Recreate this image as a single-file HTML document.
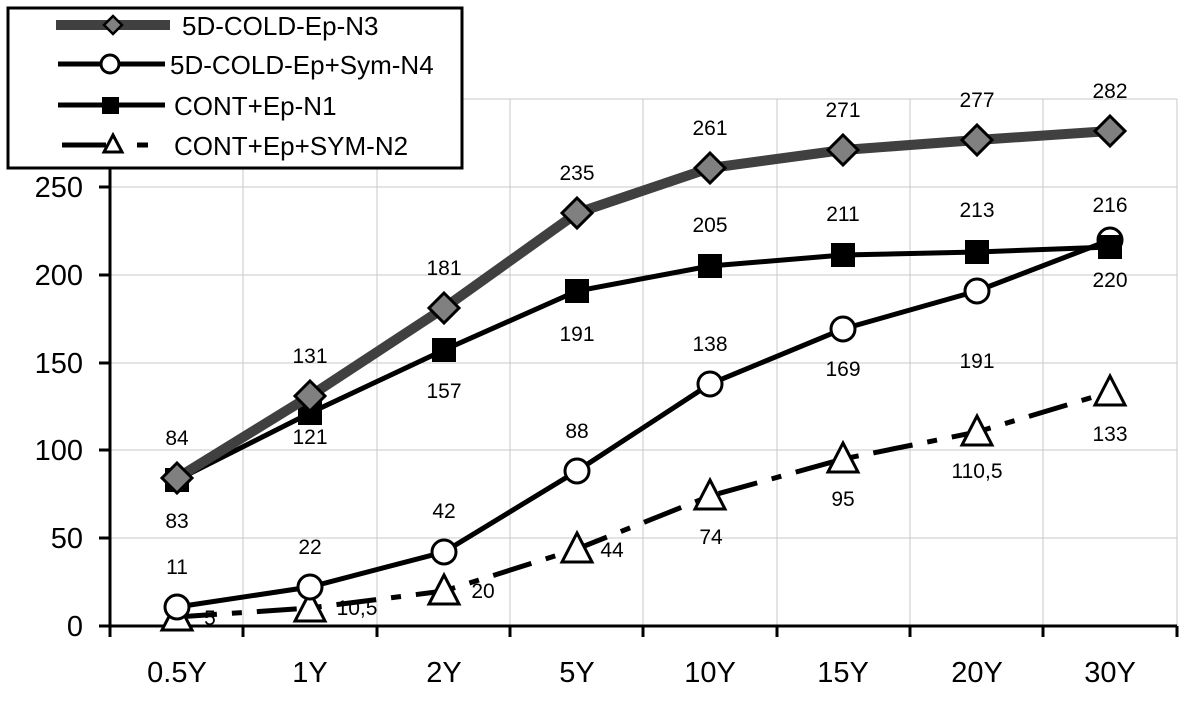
<!DOCTYPE html>
<html><head><meta charset="utf-8"><style>body{margin:0;background:#fff}</style></head><body>
<svg width="1185" height="701" xmlns="http://www.w3.org/2000/svg" font-family="Liberation Sans, Arial, sans-serif">
<rect width="1185" height="701" fill="#fff"/>
<!-- grid -->
<g stroke="#c8c8c8" stroke-width="1">
<line x1="110" y1="538" x2="1177" y2="538"/><line x1="110" y1="450" x2="1177" y2="450"/><line x1="110" y1="363" x2="1177" y2="363"/><line x1="110" y1="275" x2="1177" y2="275"/><line x1="110" y1="187" x2="1177" y2="187"/><line x1="462" y1="99" x2="1177" y2="99"/>
<line x1="243" y1="168" x2="243" y2="626"/><line x1="377" y1="168" x2="377" y2="626"/><line x1="510" y1="99" x2="510" y2="626"/><line x1="643" y1="99" x2="643" y2="626"/><line x1="777" y1="99" x2="777" y2="626"/><line x1="910" y1="99" x2="910" y2="626"/><line x1="1043" y1="99" x2="1043" y2="626"/><line x1="1177" y1="99" x2="1177" y2="626"/>
</g>
<!-- axes -->
<line x1="110" y1="168" x2="110" y2="637" stroke="#000" stroke-width="3"/>
<line x1="99" y1="626" x2="1177" y2="626" stroke="#000" stroke-width="3"/>
<g stroke="#000" stroke-width="3">
<line x1="99" y1="538" x2="110" y2="538"/><line x1="99" y1="450" x2="110" y2="450"/><line x1="99" y1="363" x2="110" y2="363"/><line x1="99" y1="275" x2="110" y2="275"/><line x1="99" y1="187" x2="110" y2="187"/>
<line x1="243" y1="626" x2="243" y2="637"/><line x1="377" y1="626" x2="377" y2="637"/><line x1="510" y1="626" x2="510" y2="637"/><line x1="643" y1="626" x2="643" y2="637"/><line x1="777" y1="626" x2="777" y2="637"/><line x1="910" y1="626" x2="910" y2="637"/><line x1="1043" y1="626" x2="1043" y2="637"/><line x1="1177" y1="626" x2="1177" y2="637"/>
</g>
<g font-size="29" text-anchor="end">
<text x="83" y="636">0</text><text x="83" y="548">50</text><text x="83" y="460">100</text><text x="83" y="373">150</text><text x="83" y="285">200</text><text x="83" y="197">250</text>
</g>
<g font-size="29" text-anchor="middle">
<text x="177" y="682">0.5Y</text><text x="310" y="682">1Y</text><text x="444" y="682">2Y</text><text x="577" y="682">5Y</text><text x="710" y="682">10Y</text><text x="843" y="682">15Y</text><text x="977" y="682">20Y</text><text x="1110" y="682">30Y</text>
</g>
<!-- N2 dashed -->
<polyline points="177,617 310,608 444,591 577,549 710,496 843,459 977,432 1110,392" fill="none" stroke="#000" stroke-width="5" stroke-dasharray="40,15,10,15"/>
<g fill="#fff" stroke="#000" stroke-width="3">
<polygon points="177,601 192,630 162,630"/><polygon points="310,592 325,621 295,621"/><polygon points="444,575 459,604 429,604"/><polygon points="577,533 592,562 562,562"/><polygon points="710,480 725,509 695,509"/><polygon points="843,443 858,472 828,472"/><polygon points="977,416 992,445 962,445"/><polygon points="1110,376 1125,405 1095,405"/>
</g>
<!-- N4 -->
<polyline points="177,607 310,587 444,552 577,471 710,384 843,329 977,291 1110,240" fill="none" stroke="#000" stroke-width="5"/>
<g fill="#fff" stroke="#000" stroke-width="3">
<circle cx="177" cy="607" r="12"/><circle cx="310" cy="587" r="12"/><circle cx="444" cy="552" r="12"/><circle cx="577" cy="471" r="12"/><circle cx="710" cy="384" r="12"/><circle cx="843" cy="329" r="12"/><circle cx="977" cy="291" r="12"/><circle cx="1110" cy="240" r="12"/>
</g>
<!-- N1 -->
<polyline points="177,480 310,413 444,350 577,291 710,266 843,255 977,252 1110,247" fill="none" stroke="#000" stroke-width="5"/>
<g fill="#000">
<rect x="165" y="468" width="24" height="24"/><rect x="298" y="401" width="24" height="24"/><rect x="432" y="338" width="24" height="24"/><rect x="565" y="279" width="24" height="24"/><rect x="698" y="254" width="24" height="24"/><rect x="831" y="243" width="24" height="24"/><rect x="965" y="240" width="24" height="24"/><rect x="1098" y="235" width="24" height="24"/>
</g>
<!-- N3 -->
<polyline points="177,478 310,396 444,308 577,213 710,168 843,150 977,140 1110,131" fill="none" stroke="#404040" stroke-width="10"/>
<g fill="#808080" stroke="#000" stroke-width="3">
<polygon points="177,463 192,478 177,493 162,478"/><polygon points="310,381 325,396 310,411 295,396"/><polygon points="444,293 459,308 444,323 429,308"/><polygon points="577,198 592,213 577,228 562,213"/><polygon points="710,153 725,168 710,183 695,168"/><polygon points="843,135 858,150 843,165 828,150"/><polygon points="977,125 992,140 977,155 962,140"/><polygon points="1110,116 1125,131 1110,146 1095,131"/>
</g>
<!-- data labels -->
<g font-size="21" text-anchor="middle">
<text x="177" y="445">84</text><text x="310" y="363">131</text><text x="444" y="275">181</text><text x="577" y="180">235</text><text x="710" y="135">261</text><text x="843" y="117">271</text><text x="977" y="107">277</text><text x="1110" y="98">282</text>
<text x="177" y="528">83</text><text x="310" y="444">121</text><text x="444" y="398">157</text><text x="577" y="341">191</text><text x="710" y="232">205</text><text x="843" y="221">211</text><text x="977" y="217">213</text><text x="1110" y="212">216</text>
<text x="177" y="574">11</text><text x="310" y="554">22</text><text x="444" y="518">42</text><text x="577" y="438">88</text><text x="710" y="351">138</text><text x="843" y="376">169</text><text x="977" y="368">191</text><text x="1110" y="287">220</text>
<text x="210" y="625">5</text><text x="357" y="615">10,5</text><text x="483" y="598">20</text><text x="612" y="557">44</text><text x="711" y="544">74</text><text x="843" y="506">95</text><text x="977" y="478">110,5</text><text x="1110" y="441">133</text>
</g>
<!-- legend -->
<rect x="8" y="8" width="454" height="160" fill="#fff" stroke="#000" stroke-width="3"/>
<line x1="56" y1="25" x2="170" y2="25" stroke="#404040" stroke-width="10"/>
<polygon points="113,16 122,25 113,34 104,25" fill="#808080" stroke="#000" stroke-width="2.5"/>
<line x1="58" y1="64" x2="165" y2="64" stroke="#000" stroke-width="5"/>
<circle cx="110" cy="64" r="9" fill="#fff" stroke="#000" stroke-width="3"/>
<line x1="58" y1="105" x2="165" y2="105" stroke="#000" stroke-width="5"/>
<rect x="102" y="97" width="17" height="17" fill="#000"/>
<line x1="62" y1="145" x2="106" y2="145" stroke="#000" stroke-width="5"/>
<polygon points="113,135 122,152 104,152" fill="#fff" stroke="#000" stroke-width="3"/>
<line x1="137" y1="145" x2="148" y2="145" stroke="#000" stroke-width="5"/>
<g font-size="26">
<text x="182" y="35">5D-COLD-Ep-N3</text><text x="170" y="74">5D-COLD-Ep+Sym-N4</text><text x="174" y="115">CONT+Ep-N1</text><text x="174" y="155">CONT+Ep+SYM-N2</text>
</g>
</svg>
</body></html>
